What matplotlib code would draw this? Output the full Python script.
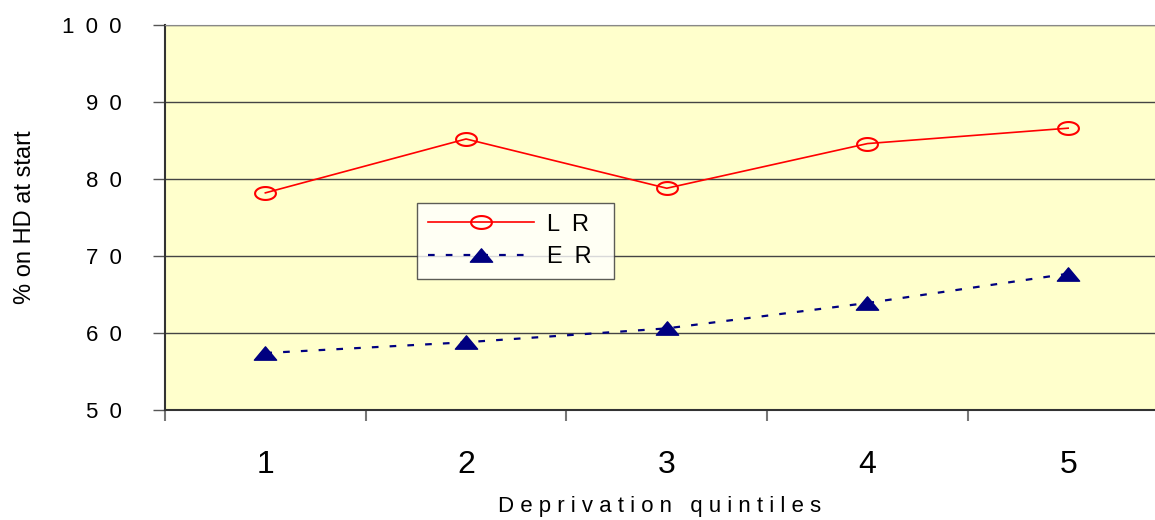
import numpy as np
import matplotlib
matplotlib.use('Agg')
from matplotlib import pyplot as plt
from matplotlib.path import Path

plt.rcParams['font.family'] = ['Liberation Sans', 'DejaVu Sans']

# 数据
quintiles = ['1', '2', '3', '4', '5']
lr = [78.2, 85.2, 78.8, 84.6, 86.6]
er = [57.4, 58.8, 60.6, 63.9, 67.7]
y_ticks = [50, 60, 70, 80, 90, 100]

# 扁平的椭圆和三角形标记
t = np.linspace(0, 2 * np.pi, 60)
ellipse = Path(np.column_stack([np.cos(t), 0.62 * np.sin(t)]), closed=True)
triangle = Path([(-1, -0.6), (1, -0.6), (0, 0.6), (-1, -0.6)], closed=True)

sp = '\u2002'  # 宽一点的字间距

fig = plt.figure(figsize=(11.55, 5.2), dpi=100)
ax = fig.add_axes([165 / 1155, 1 - 410 / 520, 1 - 165 / 1155, 385 / 520])
ax.set_facecolor('#FFFFCC')

x = np.arange(1, len(quintiles) + 1)
ax.plot(x, lr, color='red', lw=1.2, marker=ellipse, markersize=15,
        markerfacecolor='none', markeredgecolor='red', markeredgewidth=1.5,
        label='L' + sp + 'R')
ax.plot(x, er, color='#000080', lw=1.6, linestyle=(0, (3, 5)), marker=triangle,
        markersize=16, markerfacecolor='#000080', markeredgecolor='#000080',
        label='E' + sp + 'R')

ax.set_ylim(50, 100)
ax.set_xlim(0.5, 0.5 + (1155 - 165) / 200.7)
ax.set_yticks(y_ticks)
ax.set_yticklabels([sp.join(str(v)) for v in y_ticks], fontsize=16)
ax.tick_params(axis='y', length=9, width=1, color='#555555', pad=22)
ax.grid(axis='y', color='#444444', lw=1)

ax.set_xticks(x)
ax.set_xticklabels(quintiles, fontsize=23)
ax.tick_params(axis='x', which='major', length=0, pad=29)
ax.set_xticks(np.arange(0.5, 5.5, 1), minor=True)
ax.tick_params(axis='x', which='minor', length=8, width=1.5, color='#777777')

ax.spines['right'].set_visible(False)
ax.spines['top'].set_color('#888888')
ax.spines['left'].set_color('#333333')
ax.spines['left'].set_linewidth(1.5)
ax.spines['bottom'].set_color('#333333')
ax.spines['bottom'].set_linewidth(1.5)

ax.set_xlabel('D e p r i v a t i o n   q u i n t i l e s', fontsize=16, labelpad=11)
ax.set_ylabel('% on HD at start', fontsize=17, labelpad=19)

leg = fig.legend(loc='upper left', bbox_to_anchor=(417 / 1155, 1 - 203 / 520),
                 borderaxespad=0, fontsize=17, handlelength=4.5, frameon=True,
                 fancybox=False, borderpad=0.45, labelspacing=0.45, handletextpad=0.55)
leg.get_frame().set_edgecolor('#333333')
leg.get_frame().set_linewidth(1)
# 图例右侧留一点空
for txt in leg.get_texts():
    txt.set_text(txt.get_text() + sp)

plt.savefig('out.png', dpi=100)
